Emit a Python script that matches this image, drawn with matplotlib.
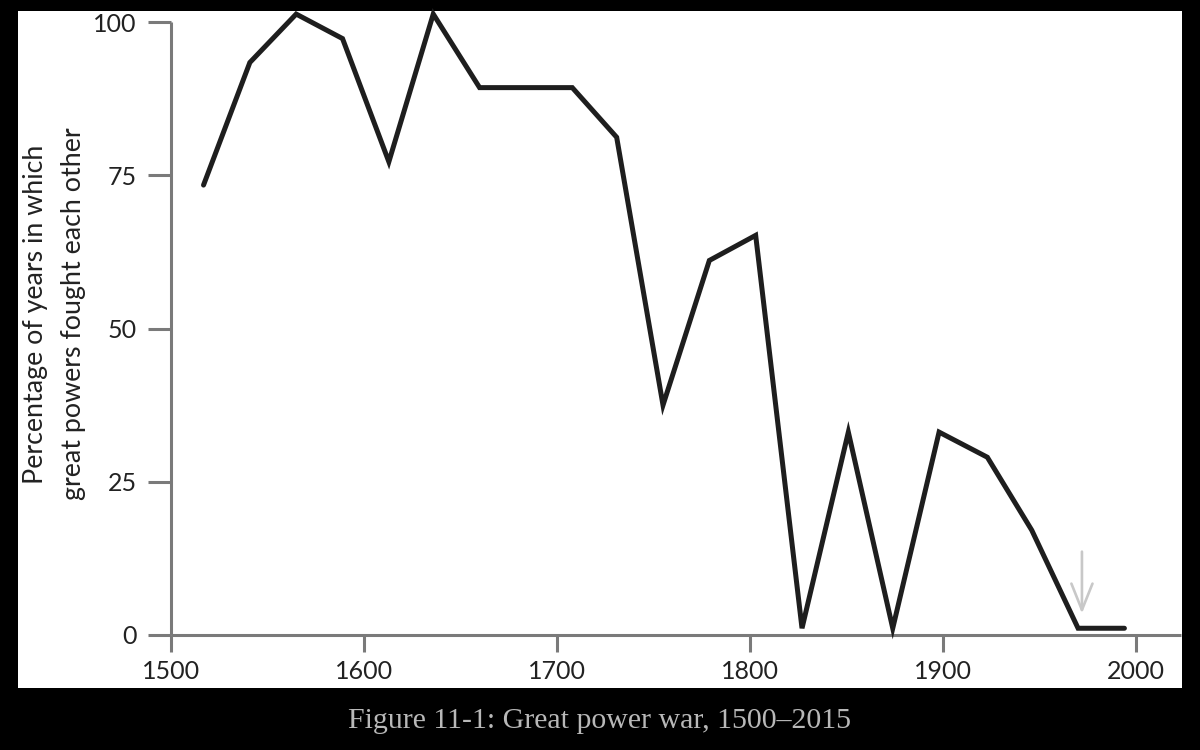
import matplotlib
matplotlib.use("Agg")
import matplotlib.pyplot as plt
from matplotlib.patches import Rectangle

# Data (period midpoints, percentage of years)
years = [1517, 1541, 1565, 1589, 1613, 1636, 1660, 1684, 1708, 1731, 1755,
         1779, 1803, 1827, 1851, 1874, 1898, 1923, 1946, 1970, 1994]
pct = [73.4, 93.4, 101.3, 97.3, 77.2, 101.3, 89.3, 89.3, 89.3, 81.2, 37.5,
       61.1, 65.2, 1.1, 33.1, 1.1, 33.1, 29.0, 17.1, 1.1, 1.1]
xticks = [1500, 1600, 1700, 1800, 1900, 2000]
yticks = [0, 25, 50, 75, 100]
arrow_year = 1972
arrow_from, arrow_to = 13.6, 3.5

ylabel = "Percentage of years in which\ngreat powers fought each other"
caption = "Figure 11-1: Great power war, 1500\u20132015"

plt.rcParams['font.family'] = ['Lato', 'DejaVu Sans']

fig = plt.figure(figsize=(12, 7.5), dpi=100, facecolor='black')
fig.patches.append(Rectangle((18/1200, 1-688/750), 1164/1200, 677/750,
                             transform=fig.transFigure, facecolor='white',
                             edgecolor='none', zorder=-10))

ax = fig.add_axes([170.7/1200, 1-635/750, (1181-170.7)/1200, (635-11)/750])
ax.set_zorder(5)
ax.set_facecolor('none')
ax.plot(years, pct, color='#1e1e1e', lw=3.6, solid_joinstyle='miter',
        solid_capstyle='round', clip_on=False, zorder=3)

ax.annotate('', xy=(arrow_year, arrow_to), xytext=(arrow_year, arrow_from),
            arrowprops=dict(arrowstyle='->,head_length=0.95,head_width=0.38',
                            color='#c8c8c8', lw=1.9, mutation_scale=20,
                            shrinkA=0, shrinkB=0))

ax.set_xlim(1500, 1500 + (1181-170.7)/1.9306)
ax.set_ylim(0, 101.8)

axis_col = '#7a7a7a'
for s in ['top', 'right']:
    ax.spines[s].set_visible(False)
for s in ['left', 'bottom']:
    ax.spines[s].set_color(axis_col)
    ax.spines[s].set_linewidth(2.2)
    ax.spines[s].set_capstyle('butt')
ax.spines['left'].set_bounds(0, 100)

ax.set_xticks(xticks)
ax.set_xticklabels([str(t) for t in xticks])
ax.set_yticks(yticks)
ax.set_yticklabels([str(t) for t in yticks])
ax.tick_params(axis='x', direction='out', length=12, width=2.2, color=axis_col,
               labelsize=18, labelcolor='#222222', pad=6)
ax.tick_params(axis='y', direction='out', length=16.5, width=2.2, color=axis_col,
               labelsize=18, labelcolor='#222222', pad=8)

fig.text(55/1200, 1-314/750, ylabel, rotation=90, ha='center', va='center',
         multialignment='center', fontsize=19.3, color='#222222',
         linespacing=1.65, zorder=6)

fig.text(0.5, 1-721/750, caption, ha='center', va='center', fontsize=21.5,
         color='#b8b8b8', family=['Liberation Serif', 'DejaVu Serif'])

fig.savefig('out.png', dpi=100, facecolor='black')
